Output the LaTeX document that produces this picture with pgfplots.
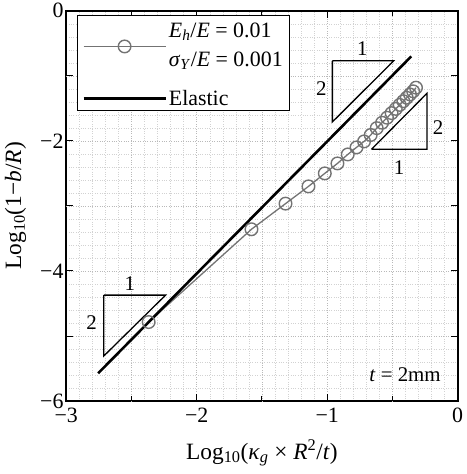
\documentclass[border=0pt]{standalone}
\usepackage{fontspec}
\setmainfont{Liberation Serif}
\usepackage{pgfplots}
\pgfplotsset{compat=1.18}
\begin{document}
\begin{tikzpicture}
\begin{axis}[
  scale only axis,
  width=392bp, height=391bp,
  xmin=-3, xmax=0, ymin=-6, ymax=0,
  xtick={-3,-2,-1,0},
  xticklabels={−3,−2,−1,0},
  ytick={-6,-4,-2,0},
  yticklabels={−6,−4,−2,0},
  extra x ticks={-2.5,-1.5,-0.5},
  extra x tick labels={},
  extra y ticks={-5,-3,-1},
  extra y tick labels={},
  extra x tick style={major tick length=5bp},
  minor xtick={-2.9,-2.8,-2.7,-2.6,-2.5,-2.4,-2.3,-2.2,-2.1,-1.9,-1.8,-1.7,-1.6,-1.5,-1.4,-1.3,-1.2,-1.1,-0.9,-0.8,-0.7,-0.6,-0.5,-0.4,-0.3,-0.2,-0.1},
  minor ytick={-5.8,-5.6,-5.4,-5.2,-5,-4.8,-4.6,-4.4,-4.2,-3.8,-3.6,-3.4,-3.2,-3,-2.8,-2.6,-2.4,-2.2,-1.8,-1.6,-1.4,-1.2,-1,-0.8,-0.6,-0.4,-0.2},
  minor tick length=0pt,
  major tick length=7bp,
  tick align=inside,
  tick style={black, line width=1pt},
  grid=both,
  major grid style={dotted, gray!55, line width=0.45pt},
  minor grid style={dotted, gray!35, line width=0.4pt},
  axis line style={line width=2pt},
  ticklabel style={font=\fontsize{22}{22}\selectfont},
  yticklabel style={inner xsep=2.5bp},
  xticklabel style={yshift=-3.5bp},
  label style={font=\fontsize{23.5}{27}\selectfont},
  xlabel style={yshift=-9.5bp},
  ylabel style={yshift=8bp},
  xlabel={Log\textsubscript{10}(\textit{κ}\textsubscript{\textit{g}} × \textit{R}\textsuperscript{2}/\textit{t})},
  ylabel={Log\textsubscript{10}(1−\textit{b}/\textit{R})},
  legend style={at={(0.027,0.99)}, anchor=north west, draw=black, line width=1pt, fill=white,
    font=\fontsize{22}{26}\selectfont, cells={anchor=west}, inner xsep=5bp, inner ysep=2bp,
    nodes={text depth=}, row sep=13bp},
  legend image code/.code={\draw[mark repeat=2,mark phase=2,#1] plot coordinates {(0cm,0cm) (1.45cm,0cm) (2.9cm,0cm)};},
]
% triangles (slope annotations)
\addplot[black, line width=1.3pt, forget plot] coordinates {(-0.96,-0.77) (-0.49,-0.77) (-0.96,-1.71) (-0.96,-0.77)};
\addplot[black, line width=1.3pt, forget plot] coordinates {(-0.66,-2.13) (-0.235,-2.13) (-0.235,-1.27) (-0.66,-2.13)};
\addplot[black, line width=1.3pt, forget plot] coordinates {(-2.712,-4.371) (-2.238,-4.371) (-2.712,-5.307) (-2.712,-4.371)};
% plastic
\addplot[black!55, line width=1.3pt, mark=o, mark size=6.3bp, mark options={line width=1.4pt, fill=none}] coordinates {
(-2.368,-4.785) (-1.580,-3.359) (-1.319,-2.965) (-1.143,-2.700) (-1.018,-2.500) (-0.921,-2.347)
(-0.842,-2.209) (-0.775,-2.101) (-0.717,-2.009) (-0.666,-1.910) (-0.620,-1.805) (-0.579,-1.722)
(-0.541,-1.645) (-0.506,-1.574) (-0.474,-1.509) (-0.444,-1.448) (-0.416,-1.391) (-0.390,-1.338)
(-0.365,-1.287) (-0.341,-1.239) (-0.319,-1.183)};
\addlegendentry{\begin{tabular}{@{}l@{}}\textit{E}\textsubscript{\textit{h}}/\textit{E} = 0.01\\[3bp]\textit{σ}\textsubscript{\textit{Y}}/\textit{E} = 0.001\end{tabular}}
% elastic
\addplot[black, line width=2.6pt] coordinates {(-2.755,-5.572) (-0.355,-0.701)};
\addlegendentry{Elastic}
% annotations
\node[font=\fontsize{21}{21}\selectfont] at (axis cs:-0.73,-0.58) {1};
\node[font=\fontsize{21}{21}\selectfont] at (axis cs:-1.045,-1.20) {2};
\node[font=\fontsize{21}{21}\selectfont] at (axis cs:-0.15,-1.795) {2};
\node[font=\fontsize{21}{21}\selectfont] at (axis cs:-0.449,-2.41) {1};
\node[font=\fontsize{21}{21}\selectfont] at (axis cs:-2.513,-4.20) {1};
\node[font=\fontsize{21}{21}\selectfont] at (axis cs:-2.806,-4.80) {2};
\node[font=\fontsize{21}{21}\selectfont] at (axis cs:-0.403,-5.6) {\textit{t} = 2mm};
\end{axis}
\path (current axis.south west) ++(-66.3bp,-73bp) rectangle ++(1bp,1bp);
\path (current axis.north east) ++(5.3bp,10bp) rectangle ++(-1bp,-1bp);
\end{tikzpicture}
\end{document}
